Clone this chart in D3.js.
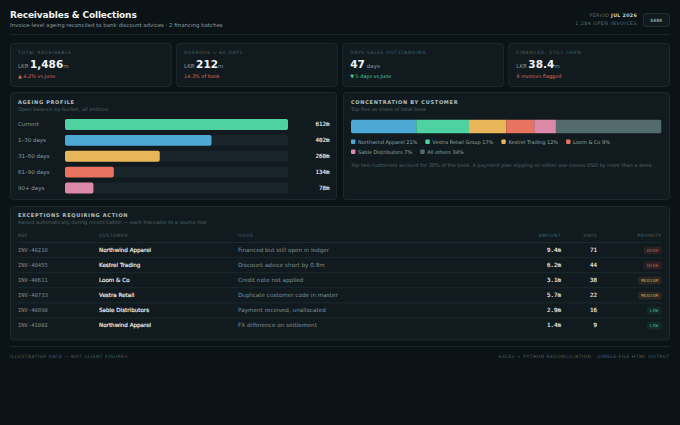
<!DOCTYPE html>
<html>
<head>
<meta charset="utf-8">
<script src="https://d3js.org/d3.v7.min.js"></script>
<style>
html, body { margin: 0; padding: 0; background: #0b1316; overflow: hidden; }
svg { display: block; }
text { font-family: "DejaVu Sans", sans-serif; }
.mono { font-family: "DejaVu Sans Mono", monospace; }
.heavy { stroke-width: .14px; paint-order: stroke; }
</style>
</head>
<body>
<svg id="chart" width="680" height="425"></svg>
<script>
// kpi cards
var kpiLabels = ["TOTAL RECEIVABLE", "OVERDUE > 60 DAYS", "DAYS SALES OUTSTANDING", "FINANCED, STILL OPEN"];
var kpiPrefix = ["LKR", "LKR", "", "LKR"];
var kpiValues = ["1,486", "212", "47", "38.4"];
var kpiUnits = ["m", "m", "days", "m"];
var kpiNotes = ["▲ 4.2% vs June", "14.3% of book", "▼ 5 days vs June", "9 invoices flagged"];
var kpiNoteKind = ["bad", "bad", "good", "bad"];

// ageing bars
var ageBuckets = ["Current", "1–30 days", "31–60 days", "61–90 days", "90+ days"];
var ageValues = [612, 402, 260, 134, 78];

// concentration
var custNames = ["Northwind Apparel", "Vestra Retail Group", "Kestrel Trading", "Loom & Co", "Sable Distributors", "All others"];
var custShares = [21, 17, 12, 9, 7, 34];

// exceptions table
var colHeads = ["REF", "CUSTOMER", "ISSUE", "AMOUNT", "DAYS", "PRIORITY"];
var refs = ["INV-40218", "INV-40455", "INV-40611", "INV-40733", "INV-40890", "INV-41002"];
var rowCustomers = ["Northwind Apparel", "Kestrel Trading", "Loom & Co", "Vestra Retail", "Sable Distributors", "Northwind Apparel"];
var issues = ["Financed but still open in ledger", "Discount advice short by 0.8m", "Credit note not applied", "Duplicate customer code in master", "Payment received, unallocated", "FX difference on settlement"];
var amounts = ["9.4m", "6.2m", "3.1m", "5.7m", "2.9m", "1.4m"];
var days = [71, 44, 38, 22, 16, 9];
var priorities = ["HIGH", "HIGH", "MEDIUM", "MEDIUM", "LOW", "LOW"];

var colours = ["#4ea8d6", "#4fd1a1", "#e8b658", "#e8735f", "#dd8aa8", "#546b6d"];
var ageColours = ["#4fd1a1", "#4ea8d6", "#e8b658", "#e8735f", "#dd8aa8"];
var prioFill = {HIGH: "#2a2120", MEDIUM: "#2a2620", LOW: "#14292a"};
var prioText = {HIGH: "#c9655a", MEDIUM: "#d8a951", LOW: "#45b48e"};

var svg = d3.select("#chart");
var cardFill = "#111b1f", cardLine = "#1a292d";
var white = "#f0f5f5", soft = "#8a9a9c", dim = "#4f6063";

function label(g, x, y, str, size, fill, opts) {
    opts = opts || {};
    return g.append("text")
        .attr("x", x).attr("y", y)
        .attr("class", opts.mono ? "mono" : null)
        .attr("text-anchor", opts.anchor || "start")
        .attr("font-size", size)
        .attr("font-weight", opts.weight || 400)
        .attr("letter-spacing", opts.spacing || 0)
        .attr("fill", fill)
        .text(str);
}

function card(x, y, w, h) {
    svg.append("rect").attr("x", x + .5).attr("y", y + .5).attr("width", w - 1).attr("height", h - 1)
        .attr("rx", 3).attr("fill", cardFill).attr("stroke", cardLine);
}

svg.append("rect").attr("width", 680).attr("height", 425).attr("fill", "#0b1316");

// header
label(svg, 10, 18, "Receivables & Collections", 9, white, {weight: 700, spacing: -.15});
label(svg, 10, 27, "Invoice-level ageing reconciled to bank discount advices · 2 financing batches", 5.45, soft);
var period = label(svg, 637, 16.8, "PERIOD ", 4.75, "#5f7072", {anchor: "end", spacing: .3});
period.append("tspan").attr("fill", "#c8d2d3").attr("font-weight", 700).text("JUL 2026");
label(svg, 637, 25.2, "1,284 OPEN INVOICES", 4.75, "#5f7072", {anchor: "end", spacing: .5});
svg.append("rect").attr("x", 643.5).attr("y", 13.5).attr("width", 26).attr("height", 13).attr("rx", 3)
    .attr("fill", "#111b1f").attr("stroke", "#1f2f33");
label(svg, 656.5, 21.6, "DARK", 4.4, "#9aa9ab", {anchor: "middle", mono: true, weight: 700, spacing: .3});
svg.append("line").attr("x1", 10).attr("x2", 670).attr("y1", 34.5).attr("y2", 34.5).attr("stroke", "#182427");

// kpi row
var kpiX = d3.scaleBand().domain(d3.range(4)).range([10, 670]).paddingInner(.027);
kpiLabels.forEach(function(d, i) {
    var x = kpiX(i);
    card(x, 43, kpiX.bandwidth(), 44);
    var g = svg.append("g");
    label(g, x + 8, 53.5, d, 4.5, dim, {spacing: .65});
    var t = label(g, x + 8, 68, "", 5.5, soft);
    if (kpiPrefix[i]) t.append("tspan").attr("font-size", 5.5).attr("fill", soft).text(kpiPrefix[i]);
    t.append("tspan").attr("font-size", 10.5).attr("font-weight", 700).attr("fill", white)
        .attr("dx", kpiPrefix[i] ? 1.5 : 0).text(kpiValues[i]);
    t.append("tspan").attr("font-size", 5.5).attr("fill", soft)
        .attr("dx", kpiUnits[i] == "days" ? 2 : 0).text(kpiUnits[i]);
    label(g, x + 8, 78, kpiNotes[i], 4.95, kpiNoteKind[i] == "bad" ? "#d9695a" : "#4fd1a1");
});

// ageing panel
card(10, 92, 327, 108);
label(svg, 18, 104, "AGEING PROFILE", 5, "#b4c0c1", {weight: 700, spacing: .7});
label(svg, 18, 111, "Open balance by bucket, all entities", 5, dim);

var ageX = d3.scaleLinear().domain([0, d3.max(ageValues)]).range([0, 223]);
var ageY = d3.scaleBand().domain(ageBuckets).range([119, 193.5]).paddingInner(.31);
var ageRows = svg.append("g").selectAll("g").data(ageBuckets).enter().append("g")
    .attr("transform", function(d) { return "translate(0," + ageY(d) + ")"; });
ageRows.append("rect").attr("x", 65).attr("width", ageX.range()[1]).attr("height", ageY.bandwidth())
    .attr("rx", 2).attr("fill", "#19252a");
ageRows.append("rect").attr("x", 65).attr("height", ageY.bandwidth()).attr("rx", 2)
    .attr("width", function(d, i) { return ageX(ageValues[i]); })
    .attr("fill", function(d, i) { return ageColours[i]; });
ageRows.append("text").attr("x", 18).attr("y", ageY.bandwidth() / 2 + 2)
    .attr("font-size", 5.5).attr("fill", soft).text(function(d) { return d; });
ageRows.append("text").attr("class", "mono heavy").attr("x", 329.5).attr("y", ageY.bandwidth() / 2 + 2)
    .attr("text-anchor", "end").attr("font-size", 5.8).attr("fill", "#eef3f3").attr("stroke", "#eef3f3")
    .text(function(d, i) { return ageValues[i] + "m"; });

// concentration panel
card(343, 92, 327, 108);
label(svg, 351, 104, "CONCENTRATION BY CUSTOMER", 5, "#b4c0c1", {weight: 700, spacing: .7});
label(svg, 351, 111, "Top five as share of total book", 5, dim);

var shareX = d3.scaleLinear().domain([0, d3.sum(custShares)]).range([351, 661.5]);
var stack = d3.stack().keys(custNames)([custNames.reduce(function(o, d, i) { o[d] = custShares[i]; return o; }, {})]);
svg.append("clipPath").attr("id", "stackClip").append("rect")
    .attr("x", shareX.range()[0]).attr("y", 119.5).attr("rx", 2.5)
    .attr("width", shareX.range()[1] - shareX.range()[0]).attr("height", 14);
svg.append("g").attr("clip-path", "url(#stackClip)").selectAll("rect").data(stack).enter().append("rect")
    .attr("x", function(d) { return shareX(d[0][0]); })
    .attr("y", 119.5).attr("height", 14)
    .attr("width", function(d) { return shareX(d[0][1]) - shareX(d[0][0]); })
    .attr("fill", function(d, i) { return colours[i]; });

// legend flows and wraps like inline items
var legendX = 351, legendY = 141.7;
custNames.forEach(function(d, i) {
    var g = svg.append("g");
    var t = label(g, 7, 2, d + " " + custShares[i] + "%", 5, "#93a3a5");
    var w = t.node().getComputedTextLength() + 7;
    if (legendX + w > 661.5) { legendX = 351; legendY += 10; }
    g.attr("transform", "translate(" + legendX + "," + legendY + ")");
    g.append("rect").attr("y", -2.2).attr("width", 4.4).attr("height", 4.4).attr("rx", .8).attr("fill", colours[i]);
    legendX += w + 8;
});
label(svg, 351, 166.7, "Top two customers account for 38% of the book. A payment plan slipping on either one moves DSO by more than a week.", 4.97, dim);

// exceptions table
card(10, 206, 660, 134.5);
label(svg, 18, 217, "EXCEPTIONS REQUIRING ACTION", 5, "#b4c0c1", {weight: 700, spacing: .7});
label(svg, 18, 224, "Raised automatically during reconciliation — each traceable to a source row", 4.95, dim);

var rowY = d3.scaleBand().domain(refs).range([242.5, 333]);
var colX = [18, 99, 238, 561, 597, 661.5];
var colAnchor = ["start", "start", "start", "end", "end", "end"];
colHeads.forEach(function(d, i) {
    label(svg, colX[i], 237, d, 4.5, dim, {spacing: .45, anchor: colAnchor[i]});
});
svg.append("line").attr("x1", 18).attr("x2", 661.5).attr("y1", 242.5).attr("y2", 242.5).attr("stroke", "#1a292d");

var rows = svg.append("g").selectAll("g").data(refs).enter().append("g")
    .attr("transform", function(d) { return "translate(0," + rowY(d) + ")"; });
var mid = rowY.bandwidth() / 2 + 2;
rows.filter(function(d, i) { return i < refs.length - 1; }).append("line")
    .attr("x1", 18).attr("x2", 661.5).attr("y1", rowY.bandwidth()).attr("y2", rowY.bandwidth()).attr("stroke", "#1a292d");
rows.append("text").attr("class", "mono").attr("x", colX[0]).attr("y", mid).attr("font-size", 5.5).attr("fill", "#7c8c8e")
    .text(function(d) { return d; });
rows.append("text").attr("class", "heavy").attr("x", colX[1]).attr("y", mid).attr("font-size", 5.6).attr("fill", "#f4f7f7").attr("stroke", "#f4f7f7")
    .text(function(d, i) { return rowCustomers[i]; });
rows.append("text").attr("x", colX[2]).attr("y", mid).attr("font-size", 5.68).attr("fill", "#7f8f91")
    .text(function(d, i) { return issues[i]; });
rows.append("text").attr("class", "mono heavy").attr("x", colX[3]).attr("y", mid).attr("text-anchor", "end")
    .attr("font-size", 5.8).attr("fill", "#eef3f3").attr("stroke", "#eef3f3").text(function(d, i) { return amounts[i]; });
rows.append("text").attr("class", "mono heavy").attr("x", colX[4]).attr("y", mid).attr("text-anchor", "end")
    .attr("font-size", 5.8).attr("fill", "#eef3f3").attr("stroke", "#eef3f3").text(function(d, i) { return days[i]; });

// priority badges
rows.each(function(d, i) {
    var g = d3.select(this), p = priorities[i];
    var bw = p.length * 2.9 + 6;
    g.append("rect").attr("x", colX[5] - bw).attr("y", rowY.bandwidth() / 2 - 3.6).attr("width", bw).attr("height", 7.8)
        .attr("rx", 2).attr("fill", prioFill[p]);
    label(g, colX[5] - bw / 2, rowY.bandwidth() / 2 + 2, p, 4.25, prioText[p], {mono: true, anchor: "middle", spacing: .3});
});

// footer
svg.append("line").attr("x1", 10).attr("x2", 670).attr("y1", 346.5).attr("y2", 346.5).attr("stroke", "#182427");
label(svg, 10, 357.7, "ILLUSTRATIVE DATA — NOT CLIENT FIGURES", 4.5, dim, {spacing: .5});
label(svg, 669.5, 357.7, "EXCEL + PYTHON RECONCILIATION · SINGLE-FILE HTML OUTPUT", 4.5, dim, {spacing: .49, anchor: "end"});
</script>
</body>
</html>
